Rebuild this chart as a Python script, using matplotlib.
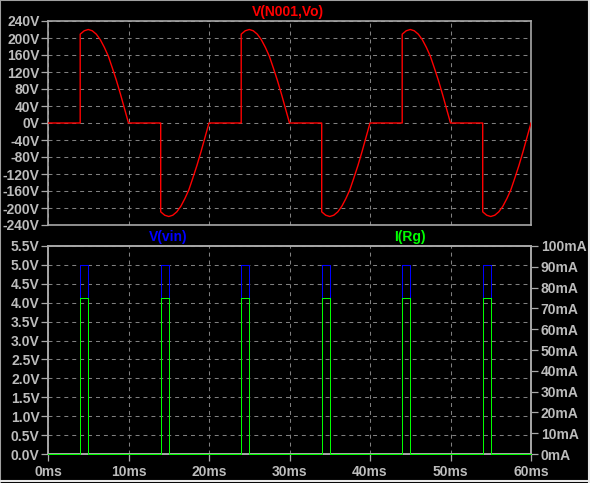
import matplotlib
matplotlib.use("Agg")
import matplotlib.pyplot as plt
from matplotlib.lines import Line2D
import numpy as np

# --- data ---
# thyristor firing instants (ms) and polarity of the conducted half wave
fire_ms = [4, 14, 24, 34, 44, 54]
fire_sign = [1, -1, 1, -1, 1, -1]
# shape of one conducted half wave: time after firing (ms) and |V|
half_dt = [0.0, 0.5, 1.0, 1.5, 2.0, 2.5, 3.0, 3.5, 4.0, 4.5, 5.0, 5.5, 6.0]
half_v = [209, 217, 220, 217, 209, 196, 178, 157, 129, 100, 68, 34, 0]

# gate pulses (bottom panel)
gate_on_ms = [4, 14, 24, 34, 44, 54]
gate_width_ms = 1.0
vin_high = 5.0      # V
irg_high = 75.0     # mA

volt_ticks = [-240, -200, -160, -120, -80, -40, 0, 40, 80, 120, 160, 200, 240]
vin_ticks = [0.0, 0.5, 1.0, 1.5, 2.0, 2.5, 3.0, 3.5, 4.0, 4.5, 5.0, 5.5]
ma_ticks = [0, 10, 20, 30, 40, 50, 60, 70, 80, 90, 100]
time_ticks = [0, 10, 20, 30, 40, 50, 60]

# --- build traces ---
red_t, red_v = [0.0], [0.0]
for f, s in zip(fire_ms, fire_sign):
    red_t.append(f); red_v.append(0.0)
    for dt, v in zip(half_dt, half_v):
        red_t.append(f + dt); red_v.append(s * v)
red_t.append(60.0); red_v.append(0.0)

def pulse_train(ons, width, high):
    t, y = [0.0], [0.0]
    for on in ons:
        t += [on, on, on + width, on + width]
        y += [0, high, high, 0]
    t.append(60.0); y.append(0.0)
    return t, y

vin_t, vin_y = pulse_train(gate_on_ms, gate_width_ms, vin_high)
irg_t, irg_y = pulse_train(gate_on_ms, gate_width_ms, irg_high)

# --- style ---
BG = "black"
FRAME = "#a8a8a8"
GRID = "#808080"
LABEL = "#bcbcbc"
FONT = "Liberation Sans"
plt.rcParams["font.family"] = [FONT, "DejaVu Sans"]
plt.rcParams["font.weight"] = "bold"

W, H = 590, 483
fig = plt.figure(figsize=(W / 100, H / 100), dpi=100, facecolor=BG)

def px_axes(x0, y0, x1, y1):
    return fig.add_axes([x0 / W, 1 - y1 / H, (x1 - x0) / W, (y1 - y0) / H])

def style(ax):
    ax.set_facecolor(BG)
    for sp in ax.spines.values():
        sp.set_color(FRAME)
        sp.set_linewidth(1.2)
    ax.tick_params(colors=FRAME, labelcolor=LABEL, length=5, width=0.9,
                   direction="out", labelsize=10)
    ax.grid(True, color=GRID, linewidth=0.75, linestyle=(0, (3.8, 3.8)))

# top panel
ax1 = px_axes(48, 21, 531, 225)
style(ax1)
ax1.set_xlim(0, 60)
ax1.set_ylim(-240, 240)
ax1.set_yticks(volt_ticks)
ax1.set_yticklabels([f"{v}V" for v in volt_ticks])
ax1.set_xticks(time_ticks)
ax1.tick_params(axis="x", length=0, labelbottom=False)
ax1.tick_params(axis="y", pad=1)
ax1.plot(red_t, red_v, color="#ff0000", lw=1.0, zorder=3)

# bottom panel
ax2 = px_axes(48, 246, 531, 454)
style(ax2)
ax2.set_xlim(0, 60)
ax2.set_ylim(0, 5.5)
ax2.set_yticks(vin_ticks)
ax2.set_yticklabels([f"{v:.1f}V" for v in vin_ticks])
ax2.set_xticks(time_ticks)
ax2.set_xticklabels([f"{t}ms" for t in time_ticks])
ax2.tick_params(axis="y", pad=1)
ax2.tick_params(axis="x", pad=3)
ax2.plot(vin_t, vin_y, color="#0000ff", lw=0.72, zorder=3, clip_on=False,
         antialiased=False)

ax3 = ax2.twinx()
ax3.set_ylim(0, 100)
ax3.set_yticks(ma_ticks)
ax3.set_yticklabels([f"{v}mA" for v in ma_ticks])
for sp in ax3.spines.values():
    sp.set_color(FRAME)
    sp.set_linewidth(1.2)
ax3.tick_params(colors=FRAME, labelcolor=LABEL, length=5, width=0.9,
                direction="out", labelsize=10, pad=2)
ax3.plot(irg_t, irg_y, color="#00ff00", lw=0.72, zorder=3, clip_on=False,
         antialiased=False)

# trace names
fig.text(288 / W, 1 - 12 / H, "V(N001,Vo)", color="#ff0000", fontsize=10,
         ha="center", va="center", fontweight="bold")
fig.text(168 / W, 1 - 237 / H, "V(vin)", color="#0000ff", fontsize=10,
         ha="center", va="center", fontweight="bold")
fig.text(410 / W, 1 - 237 / H, "I(Rg)", color="#00ff00", fontsize=10,
         ha="center", va="center", fontweight="bold")

# window border
for xs, ys, c in [([0, 0], [0, 1], "#a0a0a0"), ([0, 1], [0.999, 0.999], "#a0a0a0"),
                  ([0.998, 0.998], [0, 1], "#e8e8e8"), ([0, 1], [0.004, 0.004], "#e8e8e8")]:
    fig.add_artist(Line2D(xs, ys, transform=fig.transFigure, color=c, lw=1.5))

fig.savefig("out.png", dpi=100, facecolor=BG)
